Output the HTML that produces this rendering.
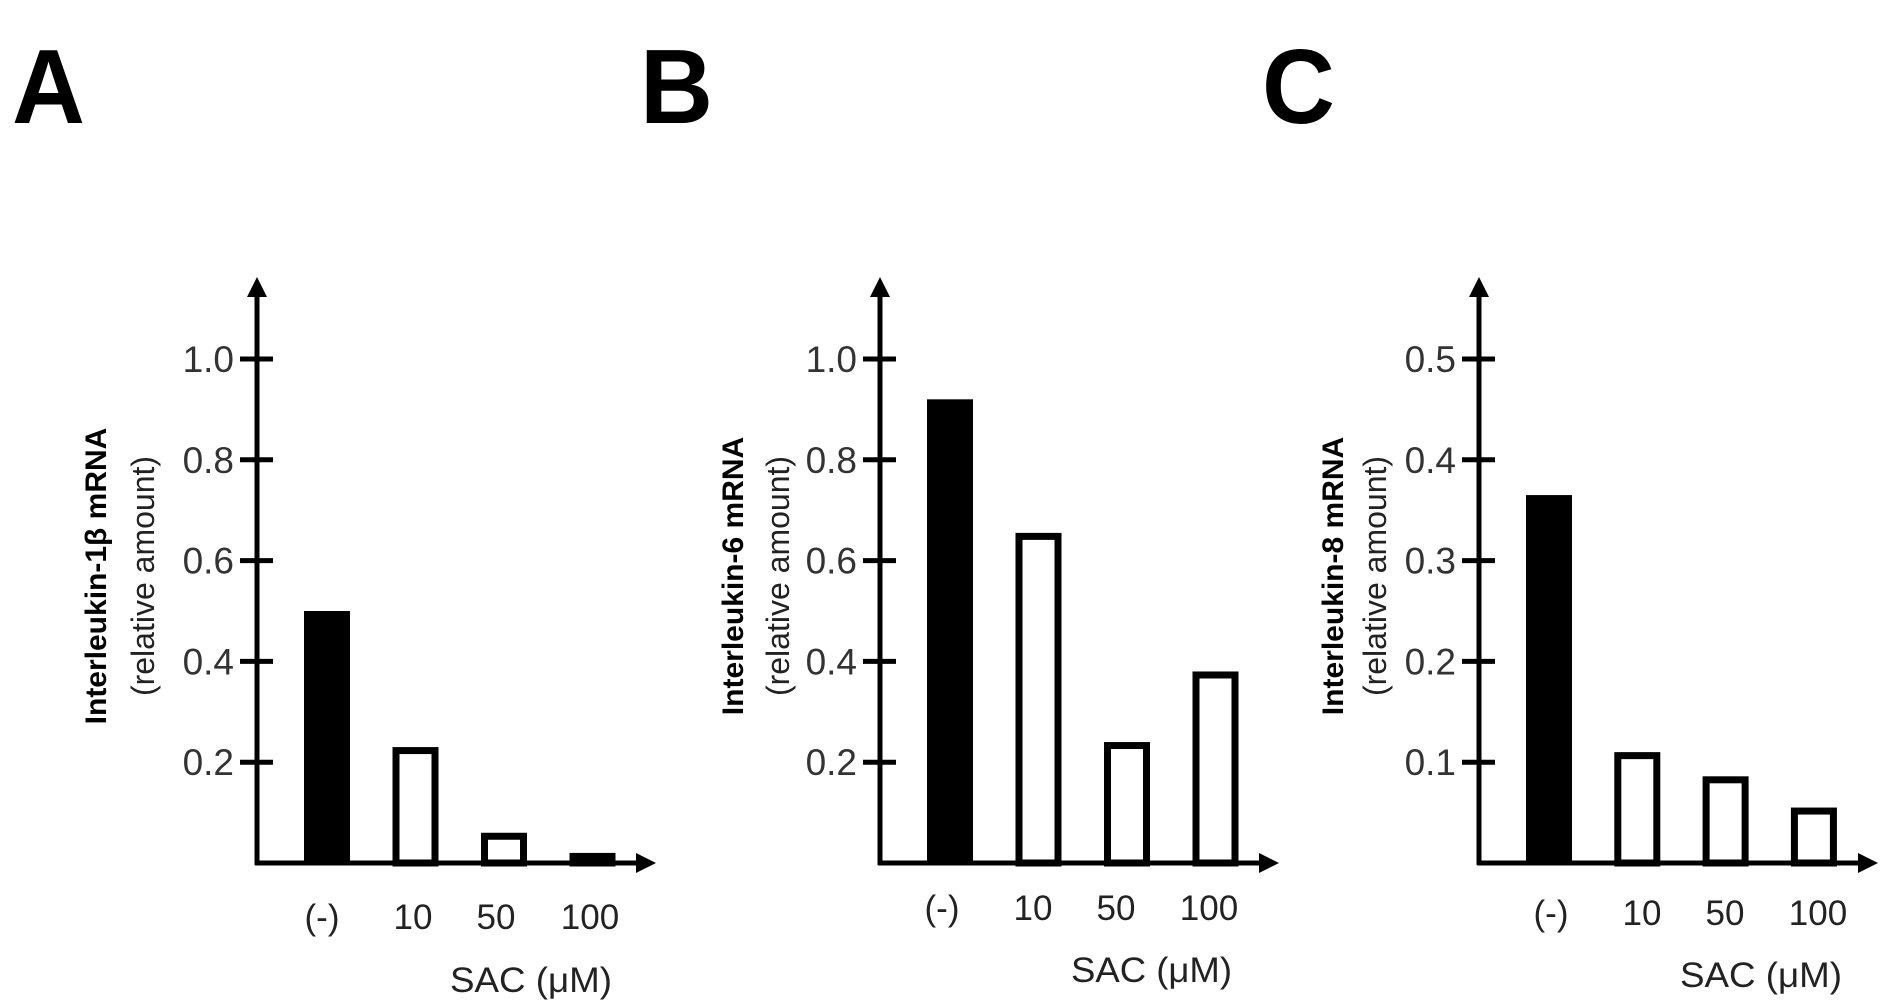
<!DOCTYPE html>
<html><head><meta charset="utf-8"><style>
html,body{margin:0;padding:0;background:#fff;}
svg{display:block;font-family:"Liberation Sans",sans-serif;}
</style></head><body>
<svg id="fig" width="1888" height="1008" viewBox="0 0 1888 1008">
<defs><marker id="ar" viewBox="0 0 10 10" refX="2" refY="5" markerWidth="4" markerHeight="4" orient="auto"><path d="M0,0 L10,5 L0,10 z" fill="#000"/></marker></defs>
</svg>
<script>
const categories = ["(-)", "10", "50", "100"];
const valuesA = [0.50, 0.23, 0.06, 0.02];
const valuesB = [0.92, 0.655, 0.24, 0.38];
const valuesC = [0.365, 0.11, 0.086, 0.055];
const ticksA = [0.2, 0.4, 0.6, 0.8, 1.0];
const ticksB = [0.2, 0.4, 0.6, 0.8, 1.0];
const ticksC = [0.1, 0.2, 0.3, 0.4, 0.5];
const tickLabelsA = ["0.2", "0.4", "0.6", "0.8", "1.0"];
const tickLabelsB = ["0.2", "0.4", "0.6", "0.8", "1.0"];
const tickLabelsC = ["0.1", "0.2", "0.3", "0.4", "0.5"];
const titles = ["Interleukin-1β mRNA", "Interleukin-6 mRNA", "Interleukin-8 mRNA"];
const letters = ["A", "B", "C"];

const svg = document.getElementById('fig');
const NS = 'http://www.w3.org/2000/svg';
function mk(tag, attrs, parent){const e=document.createElementNS(NS,tag);for(const k in attrs)e.setAttribute(k,attrs[k]);(parent||svg).appendChild(e);return e;}

const panels = [
 {key:'a', ax:257, tip:650, vals:valuesA, ticks:ticksA, tl:tickLabelsA, vmax:1.0, bar0:327, step:88.5, t1:95, t2:143, lx:12, lab:917, sac:[450,612,980]},
 {key:'b', ax:880, tip:1273, vals:valuesB, ticks:ticksB, tl:tickLabelsB, vmax:1.0, bar0:950, step:88.5, t1:732, t2:778, lx:640, lab:908, sac:[1071,1232,970]},
 {key:'c', ax:1479, tip:1872, vals:valuesC, ticks:ticksC, tl:tickLabelsC, vmax:0.5, bar0:1549, step:88.3, t1:1332, t2:1375, lx:1262, lab:913, sac:[1680,1842,975]}
];
const Y0 = 863, YTOP_VAL = 359;
const labelX = [[322,413,496,590],[942,1033,1116,1209],[1551,1642,1725,1818]];

panels.forEach((p, pi) => {
  const g = mk('g', {});
  
  
  const y = v => Y0 - (v / p.vmax) * (Y0 - YTOP_VAL);

  const L = mk('text', {x:p.lx, y:123, 'font-size':106, 'font-weight':'bold', fill:'#000', textLength:73, lengthAdjust:'spacingAndGlyphs'}, g);
  L.textContent = letters[pi];
  
  

  p.vals.forEach((v, i) => {
    const cx = p.bar0 + i * p.step, w = 46, top = y(v);
    const r = mk('rect', i===0 ? {x:cx-w/2, y:top, width:w, height:Y0-top, fill:'#000'}
                               : {x:cx-w/2+3.5, y:top+3.5, width:w-7, height:Math.max(0,Y0-top-3.5), fill:'#fff', stroke:'#000', 'stroke-width':7}, g);
    
    
    const t = mk('text', {x:labelX[pi][i], y:p.lab+12, 'font-size':35, 'text-anchor':'middle', fill:'#222'}, g);
    t.textContent = categories[i];
    
    
  });

  const ya = mk('line', {x1:p.ax, y1:Y0+2, x2:p.ax, y2:293, stroke:'#000', 'stroke-width':5, 'marker-end':'url(#ar)'}, g);
  
  
  const xa = mk('line', {x1:p.ax-2, y1:Y0, x2:p.tip-10, y2:Y0, stroke:'#000', 'stroke-width':5, 'marker-end':'url(#ar)'}, g);
  
  

  p.ticks.forEach((v, i) => {
    const ty = y(v);
    const tk = mk('line', {x1:p.ax-17, y1:ty, x2:p.ax+16, y2:ty, stroke:'#000', 'stroke-width':5}, g);
    
    
    const tt = mk('text', {x:p.ax-23, y:ty+13, 'font-size':37, 'text-anchor':'end', fill:'#333'}, g);
    tt.textContent = p.tl[i];
    
    
  });

  const cy = 576;
  const t1 = mk('text', {x:0, y:0, 'font-size':30, 'font-weight':'bold', 'text-anchor':'middle', fill:'#000', transform:`translate(${p.t1+11},${cy}) rotate(-90)`}, g);
  t1.textContent = titles[pi];
  
  
  const t2 = mk('text', {x:0, y:0, 'font-size':32, 'text-anchor':'middle', fill:'#222', transform:`translate(${p.t2+11},${cy}) rotate(-90)`}, g);
  t2.textContent = '(relative amount)';
  
  

  const s = mk('text', {x:(p.sac[0]+p.sac[1])/2, y:p.sac[2]+12, 'font-size':35, 'text-anchor':'middle', fill:'#222', textLength:p.sac[1]-p.sac[0], lengthAdjust:'spacingAndGlyphs'}, g);
  s.textContent = 'SAC (μM)';
  
  
});
</script>
</body></html>
